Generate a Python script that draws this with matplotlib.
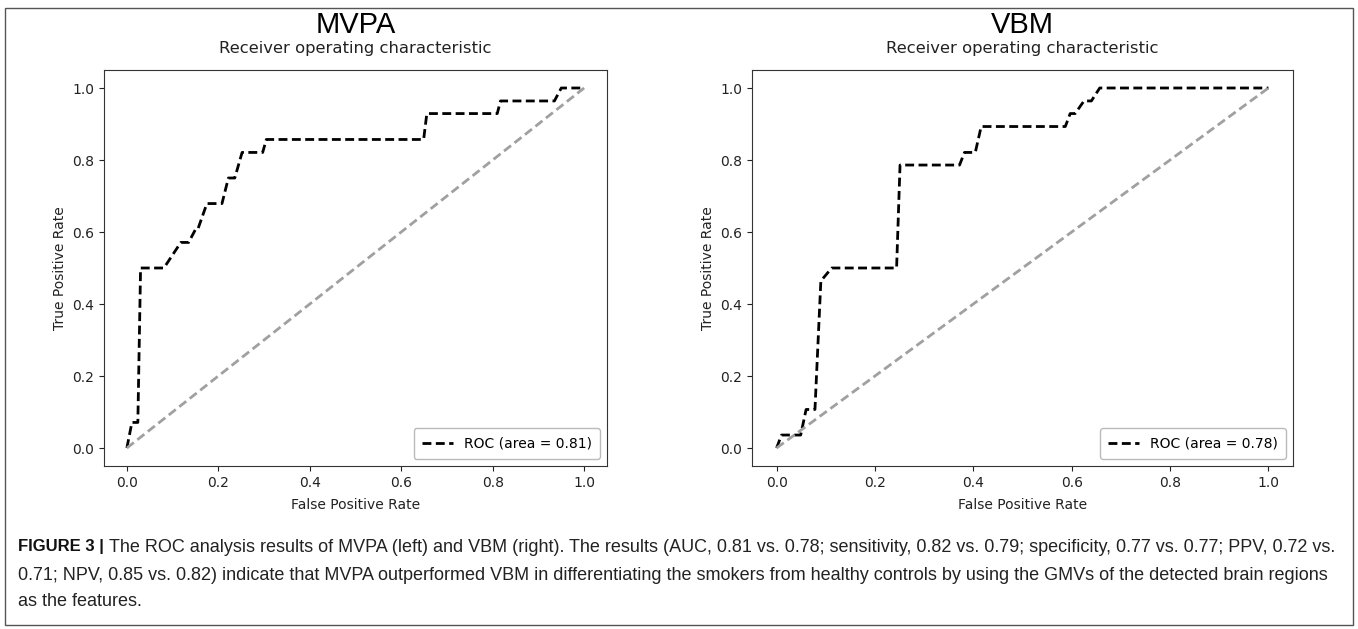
import matplotlib
matplotlib.use("Agg")
import matplotlib.pyplot as plt
from matplotlib.patches import Rectangle

# ROC points
mvpa_fpr = [0.0, 0.011, 0.024, 0.030, 0.081, 0.118, 0.135, 0.150, 0.155, 0.175, 0.208,
            0.222, 0.236, 0.252, 0.297, 0.305, 0.649, 0.656, 0.810, 0.817, 0.935, 0.950, 1.0]
mvpa_tpr = [0.0, 0.071, 0.071, 0.500, 0.500, 0.571, 0.571, 0.607, 0.607, 0.679, 0.679,
            0.750, 0.750, 0.821, 0.821, 0.857, 0.857, 0.929, 0.929, 0.964, 0.964, 1.0, 1.0]

vbm_fpr = [0.0, 0.010, 0.049, 0.060, 0.078, 0.090, 0.112, 0.244, 0.251, 0.372, 0.382,
           0.404, 0.416, 0.587, 0.597, 0.607, 0.625, 0.640, 0.657, 1.0]
vbm_tpr = [0.0, 0.036, 0.036, 0.107, 0.107, 0.464, 0.500, 0.500, 0.786, 0.786, 0.821,
           0.821, 0.893, 0.893, 0.929, 0.929, 0.964, 0.964, 1.0, 1.0]

panels = ["MVPA", "VBM"]
aucs = [0.81, 0.78]

caption1 = ("The ROC analysis results of MVPA (left) and VBM (right). The results (AUC, 0.81 vs. 0.78; "
            "sensitivity, 0.82 vs. 0.79; specificity, 0.77 vs. 0.77; PPV, 0.72 vs.")
caption2 = ("0.71; NPV, 0.85 vs. 0.82) indicate that MVPA outperformed VBM in differentiating the smokers "
            "from healthy controls by using the GMVs of the detected brain regions")
caption3 = "as the features."

W, H = 1358, 629
fig = plt.figure(figsize=(W / 100, H / 100), dpi=100)

# frame around the whole figure panel
fig.patches.append(Rectangle((5 / W, 4 / H), 1348 / W, 617 / H, transform=fig.transFigure,
                             fill=False, edgecolor="#555555", lw=1.0))

boxes = [(104, 70, 503, 396), (752, 70, 541, 396)]
curves = [(mvpa_fpr, mvpa_tpr), (vbm_fpr, vbm_tpr)]

for (x0, y0, w, h), (fpr, tpr), name, auc in zip(boxes, curves, panels, aucs):
    ax = fig.add_axes([x0 / W, 1 - (y0 + h) / H, w / W, h / H])
    ax.plot(fpr, tpr, color="black", lw=2, linestyle="--", dashes=(3.2, 1.6),
            label="ROC (area = %.2f)" % auc)
    ax.plot([0, 1], [0, 1], color="#a0a0a0", lw=2, linestyle="--", dashes=(3.2, 1.6))
    ax.set_xticks([0.0, 0.2, 0.4, 0.6, 0.8, 1.0])
    ax.set_yticks([0.0, 0.2, 0.4, 0.6, 0.8, 1.0])
    ax.tick_params(labelsize=10, colors="#222222")
    ax.set_xlabel("False Positive Rate", fontsize=10, color="#222222", labelpad=6)
    ax.set_ylabel("True Positive Rate", fontsize=10, color="#222222")
    ax.set_title("Receiver operating characteristic", fontsize=11.8, color="#222222", pad=12)
    for s in ax.spines.values():
        s.set_color("#333333")
    ax.legend(loc="lower right", fontsize=10, handlelength=2.2, borderpad=0.6,
              edgecolor="#aaaaaa")
    fig.text((x0 + w / 2) / W, 1 - 25 / H, name, ha="center", va="center",
             fontsize=21, family="Liberation Sans")

# caption
cap_font = ["Liberation Sans Narrow", "Liberation Sans", "DejaVu Sans"]
renderer = fig.canvas.get_renderer()
t = fig.text(18 / W, 1 - 547 / H, "FIGURE 3 |", fontsize=12, fontweight="bold",
             family=cap_font, va="center", color="#111111")
bb = t.get_window_extent(renderer)
fig.text(bb.x1 / W + 5 / W, 1 - 547 / H, caption1, fontsize=13, family=cap_font,
         va="center", color="#222222")
fig.text(18 / W, 1 - 575 / H, caption2, fontsize=13, family=cap_font, va="center", color="#222222")
fig.text(18 / W, 1 - 602 / H, caption3, fontsize=13, family=cap_font, va="center", color="#222222")

fig.savefig("out.png", dpi=100)
